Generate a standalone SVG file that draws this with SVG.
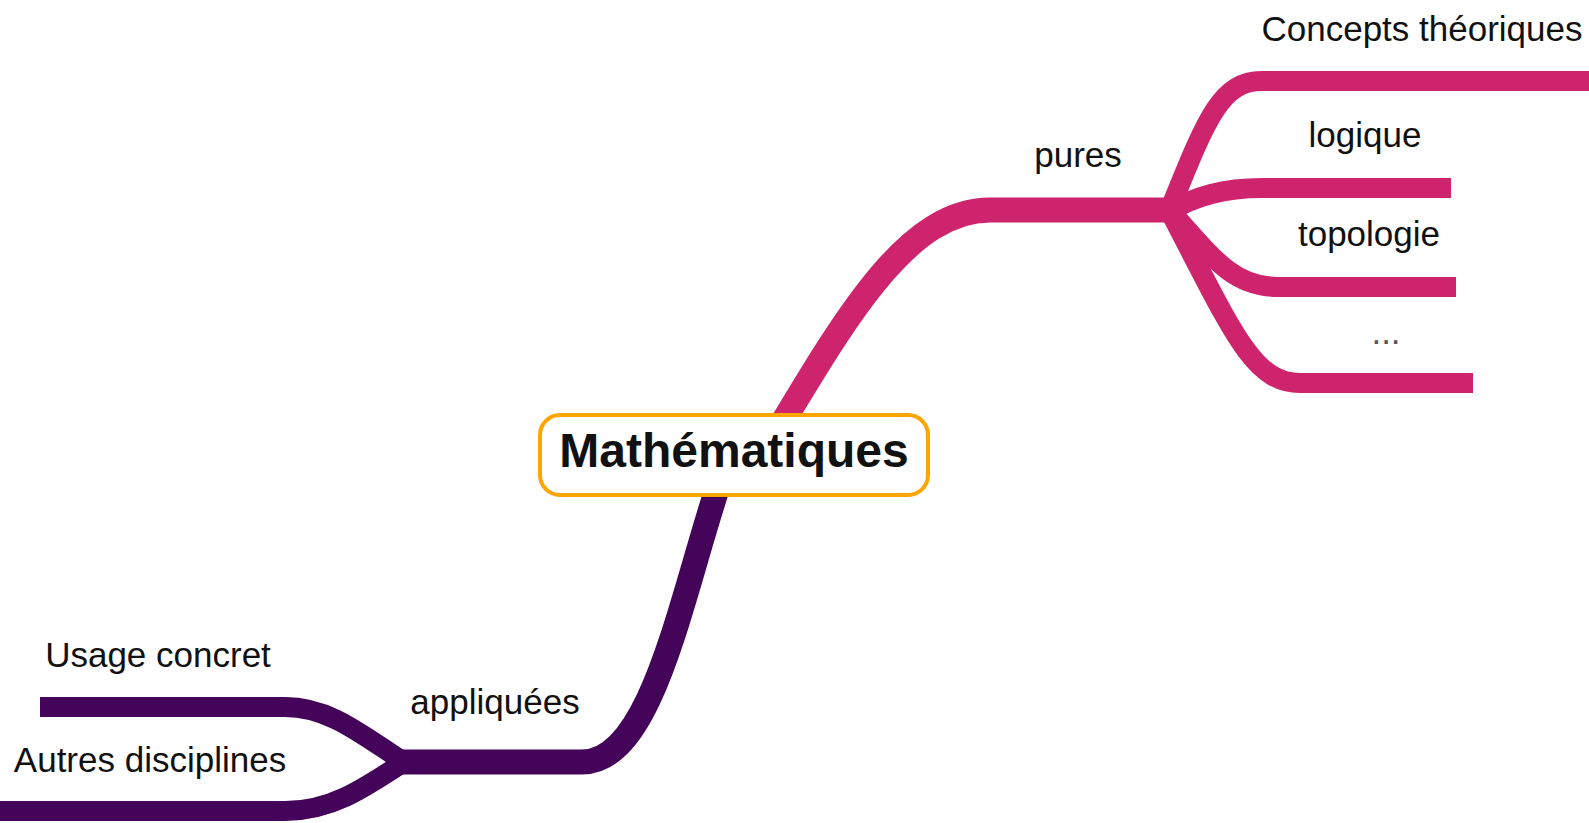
<svg xmlns="http://www.w3.org/2000/svg" width="1589" height="823" viewBox="0 0 1589 823">
<style>
.pk{fill:none;stroke:#CE236D;stroke-linecap:butt}
.pu{fill:none;stroke:#440459;stroke-linecap:butt}
.main{stroke-width:25}
.child{stroke-width:20}
.lbl{font-family:"Liberation Sans",Arial,sans-serif;font-size:35px;fill:#111}
.root{font-family:"Liberation Sans",Arial,sans-serif;font-size:48px;font-weight:bold;fill:#111}
</style>
<rect width="1589" height="823" fill="#fff"/>
<g id="connectors">
<path class="pk main" d="M778 430 C850 310 910 210 990 210 L1178 210"/>
<path class="pk child" d="M1168 214 C1206 120 1220 81 1262 81 L1589 81"/>
<path class="pk child" d="M1168 212 C1196 196 1224 188 1262 188 L1451 188"/>
<path class="pk child" d="M1168 208 C1214 260 1234 287 1278 287 L1456 287"/>
<path class="pk child" d="M1168 208 C1232 330 1252 383 1300 383 L1473 383"/>
<path class="pu main" d="M720 480 C680 600 652 762 582 762 L400 762"/>
<path class="pu child" d="M407 764 C362 735 330 707 285 707 L40 707"/>
<path class="pu child" d="M407 760 C362 790 330 811 285 811 L0 811"/>
</g>
<g id="root">
<rect x="540" y="415" width="388" height="80" rx="20" ry="20" fill="#fff" stroke="#FFA500" stroke-width="4"/>
<text class="root" x="734" y="467" text-anchor="middle">Mathématiques</text>
</g>
<g id="pures"><text class="lbl" x="1078" y="167" text-anchor="middle">pures</text></g>
<g id="concepts"><text class="lbl" x="1422" y="41" text-anchor="middle">Concepts théoriques</text></g>
<g id="logique"><text class="lbl" x="1365" y="147" text-anchor="middle">logique</text></g>
<g id="topologie"><text class="lbl" x="1369" y="246" text-anchor="middle">topologie</text></g>
<g id="etc"><text class="lbl" x="1386" y="344" text-anchor="middle" style="fill:#555">...</text></g>
<g id="appliquees"><text class="lbl" x="495" y="714" text-anchor="middle">appliquées</text></g>
<g id="usage"><text class="lbl" x="158" y="667" text-anchor="middle">Usage concret</text></g>
<g id="autres"><text class="lbl" x="150" y="772" text-anchor="middle">Autres disciplines</text></g>
</svg>
